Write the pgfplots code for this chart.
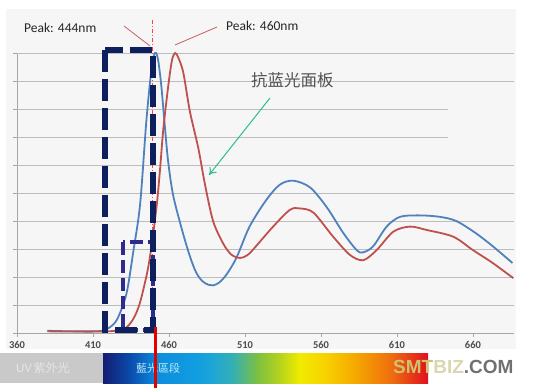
\documentclass[border=0pt]{standalone}
\usepackage{pgfplots}
\pgfplotsset{compat=1.18}
\usetikzlibrary{arrows.meta}
\usepackage{fontspec}
\setmainfont{Carlito}
\newfontfamily\cjksc{Noto Sans CJK SC}
\newfontfamily\cjktc{Noto Sans CJK TC}
\newfontfamily\wm{Liberation Sans}
\definecolor{bgc}{HTML}{F6F6F6}
\definecolor{gridc}{HTML}{BDBDBD}
\definecolor{axc}{HTML}{A6A6A6}
\definecolor{blueL}{HTML}{4F81BD}
\definecolor{redL}{HTML}{C0504D}
\definecolor{navy}{HTML}{0E1F5E}
\definecolor{indig}{HTML}{2E2A8E}
\definecolor{arrowc}{HTML}{2DBE8C}
\definecolor{s0}{HTML}{141C72}
\definecolor{s1}{HTML}{0A4FB0}
\definecolor{s2}{HTML}{0C8DDE}
\definecolor{s3}{HTML}{139FE0}
\definecolor{s4}{HTML}{1FA6D6}
\definecolor{s5}{HTML}{34B0B4}
\definecolor{s6}{HTML}{7EC040}
\definecolor{s7}{HTML}{B6D21E}
\definecolor{s8}{HTML}{F0EC00}
\definecolor{s9}{HTML}{F8D000}
\definecolor{s10}{HTML}{F4A200}
\definecolor{s11}{HTML}{EE6A10}
\definecolor{s12}{HTML}{E01020}
\begin{document}
\begin{tikzpicture}
\begin{scope}[x=1pt,y=-1pt]
\useasboundingbox (0,0) rectangle (534,388);
\fill[bgc] (6,9) rectangle (516,349);
\end{scope}
\begin{axis}[
  at={(17pt,-333pt)}, anchor=south west,
  scale only axis, width=497pt, height=280pt,
  xmin=360, xmax=687, ymin=0, ymax=1,
  axis x line*=bottom, axis y line*=left,
  axis line style={axc, line width=0.8pt},
  xtick={360,410,460,510,560,610,660},
  ytick={0,0.1,0.2,0.3,0.4,0.5,0.6,0.7,0.8,0.9,1.0},
  yticklabels={},
  tick align=outside, major tick length=4pt,
  tick style={axc, line width=0.8pt},
  /pgf/number format/assume math mode=true,
  xticklabel style={font=\fontsize{10.5}{12}\selectfont\bfseries, text=black!70, yshift=-1pt},
]
\pgfplotsinvokeforeach{0.1,0.2,0.3,0.4,0.5,0.6,0.9,1.0}{
  \draw[gridc, line width=0.9pt] (axis cs:360,#1) -- (axis cs:687,#1);
}
\pgfplotsinvokeforeach{0.7,0.8}{
  \draw[gridc, line width=0.9pt] (axis cs:360,#1) -- (axis cs:643.5,#1);
}
\addplot[blueL, line width=1.8pt, smooth, tension=0.5] coordinates {
(380,0.008) (395,0.006) (410,0.006) (416,0.008) (421,0.02) (426,0.05) (432,0.14)
(436.5,0.29) (441,0.46) (445,0.75) (448,0.92) (450,0.99) (451.5,1.0) (453,0.97)
(455,0.88) (457.4,0.73) (459.5,0.61) (462.8,0.49) (469,0.36) (474,0.27) (478,0.215)
(482,0.185) (486,0.172) (489,0.17) (493,0.18) (498,0.21) (504.5,0.27) (513,0.38)
(524,0.475) (533,0.53) (541.8,0.544) (552.8,0.52) (563.7,0.45) (574.7,0.357)
(583.5,0.296) (587.8,0.288) (594.4,0.31) (603.2,0.38) (612,0.415) (625,0.42)
(638,0.415) (649,0.40) (662,0.356) (673,0.31) (686,0.25)
};
\addplot[redL, line width=1.8pt, smooth, tension=0.5] coordinates {
(380,0.006) (410,0.005) (425,0.008) (432,0.02) (437,0.055) (441,0.11) (446,0.225)
(449,0.33) (452,0.46) (454,0.577) (456.3,0.73) (459.6,0.886) (462,0.975) (464,1.0)
(466,0.985) (469.4,0.93) (473.8,0.79) (479.3,0.66) (483.7,0.53) (489,0.40)
(495.6,0.32) (501,0.28) (506.7,0.268) (511,0.276) (515,0.296) (528.5,0.38)
(539.6,0.44) (546,0.445) (555,0.43) (568,0.344) (579,0.279) (587.8,0.26)
(596.6,0.296) (607.6,0.362) (618.6,0.38) (629.5,0.368) (647,0.344) (660,0.296)
(673,0.25) (686.5,0.196)
};
\end{axis}
\begin{scope}[x=1pt,y=-1pt]
% red dash-dot peak line
\draw[red!75, line width=0.6pt, dash pattern=on 4pt off 2pt on 1pt off 2pt] (152,20) -- (152,330);
% dashed boxes
\draw[indig, line width=4.5pt, dash pattern=on 13pt off 5pt] (123,242) rectangle (153,330);
\draw[navy, line width=6pt, dash pattern=on 22pt off 7pt] (105,50) rectangle (153,330);
% peak annotations
\draw[redL!90, line width=0.8pt] (124,26) -- (150,46);
\draw[redL!90, line width=0.8pt] (217,27) -- (175,45);
\node[anchor=west, inner sep=0pt, font=\fontsize{13.5}{15}\selectfont, text=black!85] at (24,28) {Peak: 444nm};
\node[anchor=west, inner sep=0pt, font=\fontsize{13.5}{15}\selectfont, text=black!85] at (226,26) {Peak: 460nm};
\node[anchor=west, inner sep=0pt, font=\cjksc\fontsize{16.5}{18}\selectfont, text=black!68] at (251,80) {抗蓝光面板};
\draw[arrowc, line width=1pt, -{To[length=7pt,width=9pt]}] (270,98) -- (209,175);
% spectrum bar
\fill[black!21] (0,353) rectangle (103,383);
\fill[left color=s0, right color=s1] (103,353) rectangle (132,383);
\fill[left color=s1, right color=s2] (131.5,353) rectangle (157,383);
\fill[left color=s2, right color=s3] (156.5,353) rectangle (200,383);
\fill[left color=s3, right color=s4] (199.5,353) rectangle (213,383);
\fill[left color=s4, right color=s5] (212.5,353) rectangle (233,383);
\fill[left color=s5, right color=s6] (232.5,353) rectangle (258,383);
\fill[left color=s6, right color=s7] (257.5,353) rectangle (280,383);
\fill[left color=s7, right color=s8] (279.5,353) rectangle (300,383);
\fill[left color=s8, right color=s9] (299.5,353) rectangle (327,383);
\fill[left color=s9, right color=s10] (326.5,353) rectangle (360,383);
\fill[left color=s10, right color=s11] (359.5,353) rectangle (393,383);
\fill[left color=s11, right color=s12] (392.5,353) rectangle (428,383);
\node[anchor=west, inner sep=0pt, text=white!90!black] at (16,368) {{\fontsize{13}{15}\selectfont UV}\,{\cjksc\fontsize{12}{14}\selectfont 紫外光}};
\node[inner sep=0pt, text=cyan!25!white, font=\cjktc\fontsize{11}{13}\selectfont] at (158,368) {藍光區段};
\draw[red!90!black, line width=3pt] (155,327) -- (155,388);
\node[anchor=west, inner sep=0pt, font=\wm\bfseries\fontsize{19}{21}\selectfont] at (393,367)
  {\textcolor[HTML]{CFC36A}{SMT}\textcolor[HTML]{D9D6B0}{BIZ}\textcolor[HTML]{707070}{.COM}};
\end{scope}
\end{tikzpicture}
\end{document}
